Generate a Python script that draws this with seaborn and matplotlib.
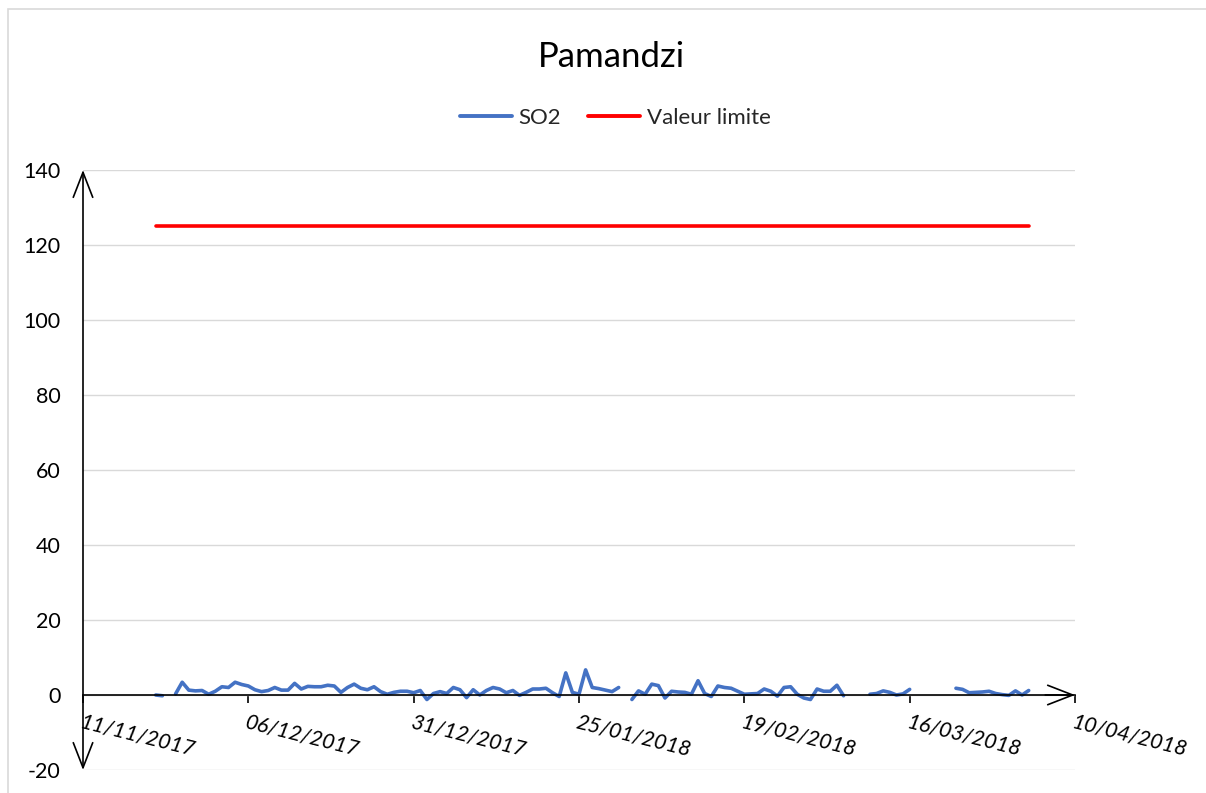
import numpy as np
import pandas as pd
import matplotlib
matplotlib.use("Agg")
import matplotlib.pyplot as plt
import matplotlib.dates as mdates
from matplotlib.patches import Rectangle
from matplotlib.lines import Line2D
import seaborn as sns

# ---- data ----
title = "Pamandzi"
start_date = "2017-11-22"
so2_values = [
    0.0, -0.2, np.nan, 0.3, 3.4, 1.3, 1.1, 1.2, 0.2, 1.0,        # 22/11 - 01/12
    2.2, 2.0, 3.4, 2.8, 2.4, 1.4, 0.9, 1.2, 2.0, 1.3,            # 02/12 - 11/12
    1.3, 3.1, 1.6, 2.3, 2.2, 2.2, 2.6, 2.4, 0.7, 2.0,            # 12/12 - 21/12
    2.9, 1.8, 1.4, 2.2, 0.9, 0.2, 0.7, 1.0, 1.0, 0.6,            # 22/12 - 31/12
    1.2, -1.2, 0.4, 0.9, 0.4, 2.0, 1.4, -0.7, 1.4, 0.0,          # 01/01 - 10/01
    1.2, 2.0, 1.6, 0.6, 1.2, -0.1, 0.7, 1.6, 1.6, 1.8,           # 11/01 - 20/01
    0.6, -0.4, 5.9, 0.7, 0.2, 6.7, 2.0, 1.7, 1.3, 0.9,           # 21/01 - 30/01
    2.0, np.nan, -1.2, 1.1, 0.2, 2.9, 2.5, -0.8, 1.0, 0.8,       # 31/01 - 09/02
    0.7, 0.2, 3.8, 0.4, -0.4, 2.4, 2.0, 1.8, 1.0, 0.2,           # 10/02 - 19/02
    0.3, 0.4, 1.6, 1.0, -0.3, 2.0, 2.2, 0.2, -0.8, -1.2,         # 20/02 - 01/03
    1.6, 1.0, 1.0, 2.6, -0.2, np.nan, np.nan, np.nan, 0.2, 0.4,  # 02/03 - 11/03
    1.1, 0.7, 0.0, 0.3, 1.5, np.nan, np.nan, np.nan, np.nan, np.nan,  # 12/03 - 21/03
    np.nan, 1.8, 1.5, 0.6, 0.7, 0.8, 1.0, 0.4, 0.1, -0.1,        # 22/03 - 31/03
    1.1, 0.0, 1.2,                                               # 01/04 - 03/04
]
limit_value = 125
x_start = "2017-11-11"
x_end = "2018-04-10"
tick_step_days = 25
y_ticks = [-20, 0, 20, 40, 60, 80, 100, 120, 140]

dates = pd.date_range(start_date, periods=len(so2_values), freq="D")
so2 = pd.Series(so2_values, index=dates)
seg = so2.isna().cumsum()
df = pd.DataFrame({"date": dates, "so2": so2.values, "seg": seg.values}).dropna()
lim_df = pd.DataFrame({"date": [dates[0], dates[-1]], "val": [limit_value, limit_value]})

# ---- plot ----
sns.set_theme(style="white")
plt.rcParams["font.family"] = ["Lato", "DejaVu Sans"]
plt.rcParams["axes.unicode_minus"] = False

fig = plt.figure(figsize=(12.06, 7.93), dpi=100)
ax = fig.add_axes([83 / 1206, 1 - 770 / 793, (1075 - 83) / 1206, 600 / 793])

blue = "#4472C4"
red = "#FF0000"
sns.lineplot(data=df, x="date", y="so2", units="seg", estimator=None,
             color=blue, lw=2.6, ax=ax, solid_capstyle="round")
sns.lineplot(data=lim_df, x="date", y="val", color=red, lw=2.6, ax=ax)

ax.set_xlim(pd.Timestamp(x_start), pd.Timestamp(x_end))
ax.set_ylim(y_ticks[0], y_ticks[-1])
ax.set_yticks(y_ticks)
ax.set_xticks(pd.date_range(x_start, x_end, freq=f"{tick_step_days}D"))
ax.xaxis.set_major_formatter(mdates.DateFormatter("%d/%m/%Y"))
ax.set_xlabel("")
ax.set_ylabel("")

ax.grid(axis="y", color="#D9D9D9", lw=1)
ax.grid(axis="x", visible=False)
for s in ["top", "right", "left"]:
    ax.spines[s].set_visible(False)
ax.spines["bottom"].set_position(("data", 0))
ax.spines["bottom"].set_color("black")
ax.spines["bottom"].set_linewidth(1.2)

ax.tick_params(axis="y", length=0, pad=16, labelsize=15.5, labelcolor="black")
ax.tick_params(axis="x", direction="out", length=6, width=1.2, color="black",
               pad=6, labelsize=15.5, labelcolor="black", bottom=True)
for lab in ax.get_xticklabels():
    lab.set_rotation(-14)
    lab.set_ha("left")
    lab.set_va("top")
    lab.set_rotation_mode("anchor")
    lab.set_fontstyle("italic")

# axis arrows
ax.annotate("", xy=(0, 1), xytext=(0, 0), xycoords="axes fraction",
            arrowprops=dict(arrowstyle="<->,head_length=0.9,head_width=0.35",
                            lw=1.2, color="black", shrinkA=0, shrinkB=0,
                            mutation_scale=20))
ax.annotate("", xy=(1, 0), xytext=(0.97, 0), xycoords=("axes fraction", "data"),
            arrowprops=dict(arrowstyle="->,head_length=0.9,head_width=0.35",
                            lw=1.2, color="black", shrinkA=0, shrinkB=0,
                            mutation_scale=20))

fig.text(611 / 1206, 1 - 57 / 793, title, ha="center", va="center",
         fontsize=25, color="black")

handles = [Line2D([], [], color=blue, lw=2.8), Line2D([], [], color=red, lw=2.8)]
fig.legend(handles, ["SO2", "Valeur limite"], loc="center",
           bbox_to_anchor=(615 / 1206, 1 - 118 / 793), ncol=2, frameon=False,
           fontsize=16, handlelength=2.35, handletextpad=0.3, columnspacing=1.2)

fig.patches.append(Rectangle((8 / 1206, -0.05), 1.2, 1 - 9 / 793 + 0.05,
                             transform=fig.transFigure, fill=False,
                             edgecolor="#D9D9D9", lw=1.2))

fig.savefig("out.png", dpi=100)
